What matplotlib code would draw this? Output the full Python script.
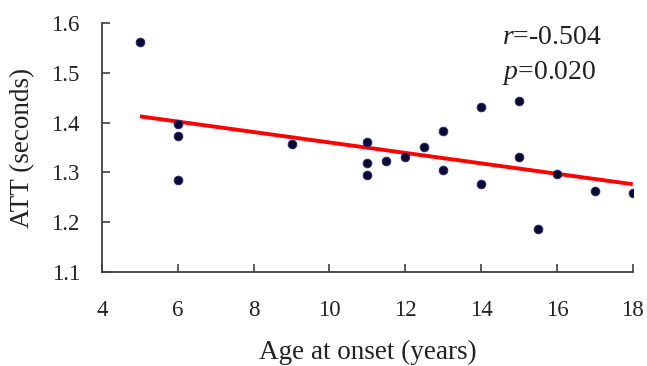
import numpy as np
import matplotlib
matplotlib.use("Agg")
import matplotlib.pyplot as plt

age = [5, 6, 6, 6, 9, 11, 11, 11, 11.5, 12, 12.5, 13, 13, 14, 14, 15, 15, 15.5, 16, 17, 18]
att = [1.562, 1.397, 1.374, 1.285, 1.358, 1.362, 1.318, 1.295, 1.323, 1.330, 1.350,
       1.383, 1.305, 1.431, 1.276, 1.443, 1.330, 1.186, 1.297, 1.263, 1.259]
xticks = [4, 6, 8, 10, 12, 14, 16, 18]
yticks = [1.1, 1.2, 1.3, 1.4, 1.5, 1.6]
r_text = "-0.504"
p_text = "0.020"

plt.rcParams['font.family'] = ['Liberation Serif', 'DejaVu Serif']
plt.rcParams['mathtext.fontset'] = 'custom'
plt.rcParams['mathtext.rm'] = 'Liberation Serif'
plt.rcParams['mathtext.it'] = 'Liberation Serif:italic'

fig = plt.figure(figsize=(6.47, 3.66), dpi=100)
ax = fig.add_axes([0.1577, 0.257, 0.978 - 0.1577, 0.937 - 0.257])

x = np.array(age)
y = np.array(att)
k, b = np.polyfit(x, y, 1)
xl = np.array([x.min(), x.max()])
ax.plot(xl, k * xl + b, color='#ff0000', lw=2.8, zorder=2, solid_capstyle='butt')
ax.scatter(x, y, s=40, color='#0a0a2e', edgecolors='#2a2a8a', linewidths=0.6, zorder=3)

ax.set_xlim(4, 18)
ax.set_ylim(1.1, 1.6)
ax.set_xticks(xticks)
ax.set_xticklabels([str(t) for t in xticks])
ax.set_yticks(yticks)
ax.set_yticklabels([f"{t:.1f}" for t in yticks])

for s in ['top', 'right']:
    ax.spines[s].set_visible(False)
for s in ['left', 'bottom']:
    ax.spines[s].set_color('#404040')
    ax.spines[s].set_linewidth(1.3)
ax.tick_params(direction='in', length=6, width=1.2, color='#404040',
               labelsize=16.5, colors='#222222')
ax.tick_params(axis='x', pad=20)
ax.tick_params(axis='y', pad=16)
ax.set_xlabel("Age at onset (years)", fontsize=19.5, color='#222222', labelpad=14)
ax.set_ylabel("ATT (seconds)", fontsize=19.5, color='#222222', labelpad=12)

ax.text(0.753, 0.916, r"$\mathit{r}$" + "=" + r_text, transform=ax.transAxes, fontsize=20,
        color='#222222', va='baseline', ha='left')
ax.text(0.753, 0.775, r"$\mathit{p}$" + "=" + p_text, transform=ax.transAxes, fontsize=20,
        color='#222222', va='baseline', ha='left')

fig.savefig("out.png", dpi=100)
